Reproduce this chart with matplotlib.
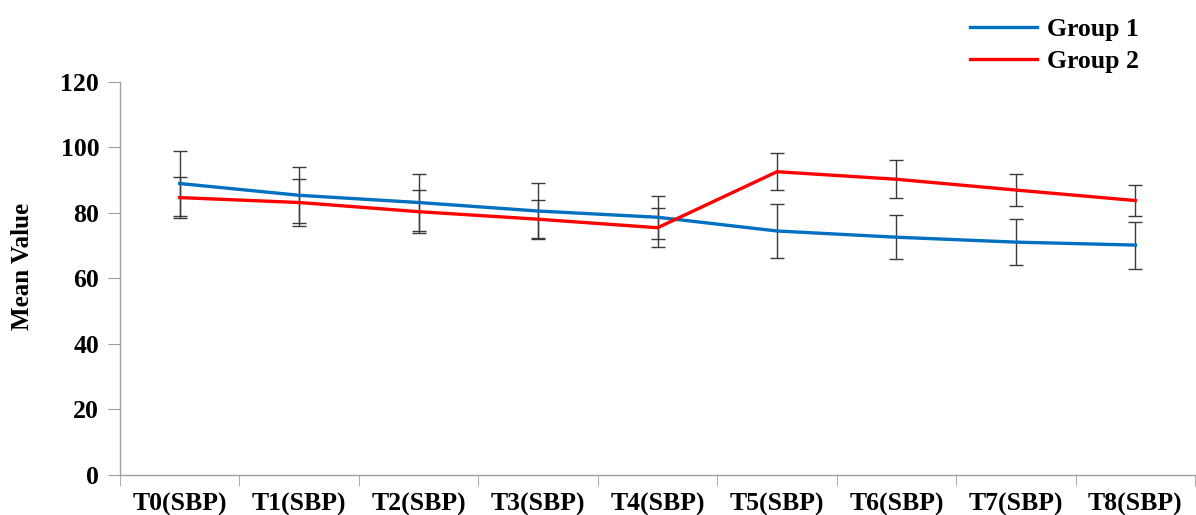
import numpy as np
import matplotlib.pyplot as plt
from matplotlib.ticker import FixedLocator

labels = ['T0(SBP)', 'T1(SBP)', 'T2(SBP)', 'T3(SBP)', 'T4(SBP)',
          'T5(SBP)', 'T6(SBP)', 'T7(SBP)', 'T8(SBP)']
group1 = [89.0, 85.4, 83.2, 80.6, 78.7, 74.5, 72.6, 71.1, 70.2]
group1_err = [9.8, 8.5, 8.8, 8.6, 6.5, 8.3, 6.8, 7.0, 7.2]
group2 = [84.7, 83.2, 80.4, 78.1, 75.5, 92.6, 90.3, 87.0, 83.8]
group2_err = [6.2, 7.2, 6.6, 5.8, 6.0, 5.6, 5.8, 5.0, 4.7]

plt.rcParams['font.family'] = ['Liberation Serif', 'DejaVu Serif']
plt.rcParams['font.weight'] = 'bold'

fig = plt.figure(figsize=(11.96, 5.15), dpi=100)
ax = fig.add_axes([0.1003, 0.0777, 0.899, 0.7631])

x = np.arange(len(labels))
ax.errorbar(x, group1, yerr=group1_err, fmt='none', ecolor='#3a3a3a',
            elinewidth=1, capsize=5, capthick=1, zorder=2)
ax.errorbar(x, group2, yerr=group2_err, fmt='none', ecolor='#3a3a3a',
            elinewidth=1, capsize=5, capthick=1, zorder=2)
ax.plot(x, group1, color='#0070C0', lw=2.4, label='Group 1', zorder=3)
ax.plot(x, group2, color='#FF0000', lw=2.4, label='Group 2', zorder=3)

ax.set_xlim(-0.5, len(labels) - 0.5)
ax.set_ylim(0, 120)
ax.set_yticks(range(0, 121, 20))
ax.set_xticks(x)
ax.set_xticklabels(labels, fontsize=18.5, fontweight='bold')
ax.xaxis.set_minor_locator(FixedLocator(np.arange(-0.5, len(labels), 1.0)))
ax.tick_params(axis='x', which='major', length=0, pad=13)
ax.tick_params(axis='x', which='minor', length=8, color='#a0a0a0')
ax.tick_params(axis='y', length=9, color='#a0a0a0', labelsize=18.5, pad=6)
for lbl in ax.get_yticklabels():
    lbl.set_fontweight('bold')

for s in ['top', 'right']:
    ax.spines[s].set_visible(False)
for s in ['left', 'bottom']:
    ax.spines[s].set_color('#a0a0a0')
    ax.spines[s].set_linewidth(1)

ax.set_ylabel('Mean Value', fontsize=18, fontweight='bold')
ax.yaxis.set_label_coords(-0.080, 0.53)

fig.legend(loc='upper right', bbox_to_anchor=(0.972, 1.01), frameon=False,
           prop={'size': 18.5, 'weight': 'bold'}, handlelength=2.6,
           handletextpad=0.4, labelspacing=0.35)

fig.savefig('out.png', dpi=100)
